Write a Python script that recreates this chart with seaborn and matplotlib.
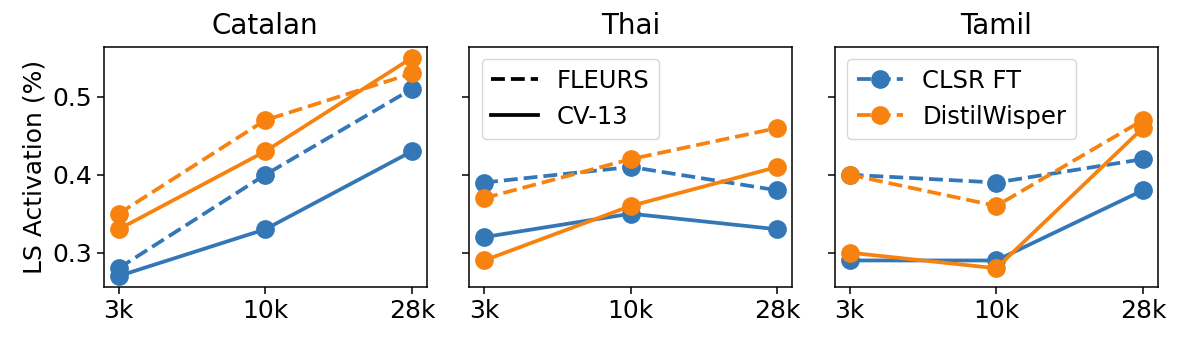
import matplotlib
matplotlib.use("Agg")
import matplotlib.pyplot as plt
from matplotlib.lines import Line2D
import seaborn as sns
import pandas as pd

languages = ["Catalan", "Thai", "Tamil"]
sizes = ["3k", "10k", "28k"]
models = ["CLSR FT", "DistilWisper"]
datasets = ["FLEURS", "CV-13"]

catalan_clsr_fleurs = [0.28, 0.40, 0.51]
catalan_clsr_cv = [0.27, 0.33, 0.43]
catalan_distil_fleurs = [0.35, 0.47, 0.53]
catalan_distil_cv = [0.33, 0.43, 0.55]

thai_clsr_fleurs = [0.39, 0.41, 0.38]
thai_clsr_cv = [0.32, 0.35, 0.33]
thai_distil_fleurs = [0.37, 0.42, 0.46]
thai_distil_cv = [0.29, 0.36, 0.41]

tamil_clsr_fleurs = [0.40, 0.39, 0.42]
tamil_clsr_cv = [0.29, 0.29, 0.38]
tamil_distil_fleurs = [0.40, 0.36, 0.47]
tamil_distil_cv = [0.30, 0.28, 0.46]

series = {
    "Catalan": {("CLSR FT", "FLEURS"): catalan_clsr_fleurs, ("CLSR FT", "CV-13"): catalan_clsr_cv,
                ("DistilWisper", "FLEURS"): catalan_distil_fleurs, ("DistilWisper", "CV-13"): catalan_distil_cv},
    "Thai": {("CLSR FT", "FLEURS"): thai_clsr_fleurs, ("CLSR FT", "CV-13"): thai_clsr_cv,
             ("DistilWisper", "FLEURS"): thai_distil_fleurs, ("DistilWisper", "CV-13"): thai_distil_cv},
    "Tamil": {("CLSR FT", "FLEURS"): tamil_clsr_fleurs, ("CLSR FT", "CV-13"): tamil_clsr_cv,
              ("DistilWisper", "FLEURS"): tamil_distil_fleurs, ("DistilWisper", "CV-13"): tamil_distil_cv},
}

rows = []
for lang in languages:
    for (m, d), vals in series[lang].items():
        for s, v in zip(sizes, vals):
            rows.append({"lang": lang, "model": m, "dataset": d, "size": s, "value": v})
df = pd.DataFrame(rows)

colors = {"CLSR FT": "#3477b7", "DistilWisper": "#f8820f"}
dashes = {"FLEURS": (3.7, 1.6), "CV-13": ""}
LW = 2.7
MS = 13.5
DASH = (0, (3.7, 1.6))

fig, axes = plt.subplots(1, 3, figsize=(11.8, 3.4), dpi=100, sharey=True)
fig.subplots_adjust(left=0.0881, right=0.981, bottom=0.156, top=0.862, wspace=0.133)

for ax, lang in zip(axes, languages):
    sub = df[df["lang"] == lang]
    sns.lineplot(data=sub, x="size", y="value", hue="model", style="dataset",
                 hue_order=models, style_order=datasets, palette=colors,
                 dashes=dashes, markers={"FLEURS": "o", "CV-13": "o"},
                 markersize=MS, markeredgewidth=0, linewidth=LW,
                 sort=False, ax=ax, legend=False)
    for ln in ax.lines:
        if ln.get_linestyle() not in ("-", "None"):
            ln.set_linestyle(DASH)
    ax.set_title(lang, fontsize=20, pad=9)
    ax.set_xlabel("")
    ax.set_ylabel("")
    ax.tick_params(labelsize=18, length=5, width=1.1)
    for sp in ax.spines.values():
        sp.set_linewidth(1.1)

axes[0].set_ylabel("LS Activation (%)", fontsize=18)
axes[0].set_yticks([0.3, 0.4, 0.5])
axes[0].set_yticklabels(["0.3", "0.4", "0.5"])

style_handles = [Line2D([], [], color="black", linestyle=DASH, linewidth=LW),
                 Line2D([], [], color="black", linestyle="-", linewidth=LW)]
axes[1].legend(style_handles, datasets, loc="upper left", fontsize=17.5, handlelength=1.9)

model_handles = [Line2D([], [], color=colors[m], linestyle=DASH, linewidth=LW,
                        marker="o", markersize=MS, markeredgewidth=0) for m in models]
axes[2].legend(model_handles, models, loc="upper left", fontsize=17.5, handlelength=1.9)

fig.savefig("out.png", dpi=100)
